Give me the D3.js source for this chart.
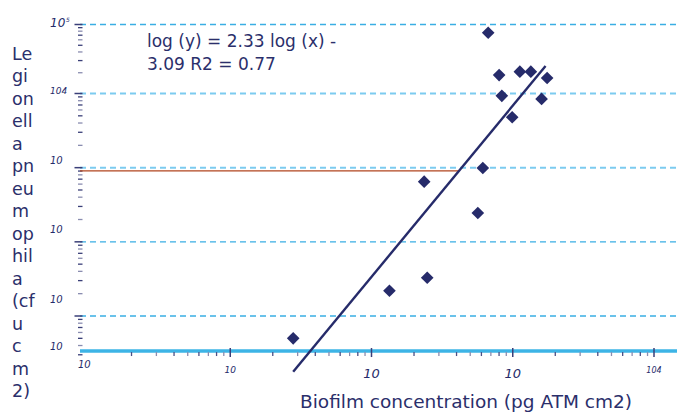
<!DOCTYPE html>
<html><head><meta charset="utf-8">
<script src="https://cdn.jsdelivr.net/npm/d3@7/dist/d3.min.js"></script>
<style>body{margin:0;background:#fff}svg{display:block}text{font-family:"DejaVu Sans",Verdana,sans-serif}</style>
</head><body><svg id="c" width="677" height="417"></svg>
<script>
// ---- data ----
const biofilm = [27.9, 134, 248, 236, 566, 614, 670, 801, 837, 991, 1123, 1343, 1751, 1600];
const legionella = [5.0, 21.9, 32.8, 647, 245, 991, 76000, 18500, 9290, 4790, 20700, 20700, 16800, 8450];
const trendX = [27.9, 1707];
const trendY = [1.77, 25100];
const threshold = 903;
const yGridValues = [1e1, 1e2, 1e3, 1e4, 1e5];
const yTickLabels = ["10", "10", "10", "104", "10"]; // for 1e1..1e5 (1e5 drawn with superscript)
const xTickValues = [1, 10, 100, 1000, 10000];
const xTickLabels = ["10", "10", "10", "10", "104"];
const equationLines = ["log (y) = 2.33 log (x) -", "3.09 R2 = 0.77"];
const yTitleLines = ["Le","gi","on","ell","a","pn","eu","m","op","hil","a","(cf","u","c","m","2)"];
const xTitle = "Biofilm concentration (pg ATM cm2)";
const yFloor = 3.37;

// ---- layout ----
const navy = "#262b6a";
const svg = d3.select("#c");
const x = d3.scaleLog().domain([1, 1e4]).range([89, 654]);
const y = d3.scaleLog().domain([1e1, 1e4, 1e5]).range([316, 93.5, 24.5]);
const xLeft = 80, xRight = 677;
const yBase = y(yFloor);

// gridlines
svg.append("g").selectAll("line").data(yGridValues).join("line")
  .attr("x1", xLeft).attr("x2", xRight)
  .attr("y1", d => y(d)).attr("y2", d => y(d))
  .attr("stroke", d => (d === 1e3 || d === 1e4) ? "#7ccbf0" : "#3aaee4")
  .attr("stroke-width", d => (d === 1e3 || d === 1e4) ? 2 : 1.3)
  .attr("stroke-dasharray", "6,4");

// y minor ticks
const yMinor = [];
for (let e = 0; e <= 4; e++) for (let m = 2; m <= 9; m++) { const v = m * Math.pow(10, e); if (v >= 3) yMinor.push(v); }
svg.append("g").selectAll("line").data(yMinor).join("line")
  .attr("x1", 78).attr("x2", 82.5).attr("y1", d => y(d)).attr("y2", d => y(d))
  .attr("stroke", (d, i) => i % 2 ? "#8a8db0" : "#3a3f78").attr("stroke-width", 1.3);
svg.append("g").selectAll("line").data(yGridValues).join("line")
  .attr("x1", 74.5).attr("x2", 82.5).attr("y1", d => y(d)).attr("y2", d => y(d))
  .attr("stroke", "#3a3f78").attr("stroke-width", 1.5);

// y labels
const yLabelDy = [-13, -9, -4, 0.5, 2];
const yLabelSize = [10, 10, 10, 9, 12];
svg.append("g").selectAll("text").data(yGridValues).join("text")
  .attr("x", 50).attr("y", (d, i) => y(d) + yLabelDy[i])
  .attr("font-size", (d, i) => yLabelSize[i]).attr("font-style", "italic").attr("fill", navy)
  .text((d, i) => yTickLabels[i]);
svg.append("text").attr("x", 66).attr("y", y(1e5) - 3).attr("font-size", 6).attr("font-style", "italic").attr("fill", navy).text("5");
svg.append("text").attr("x", 50).attr("y", yBase - 1).attr("font-size", 10).attr("font-style", "italic").attr("fill", navy).text("10");

// threshold line (ends where trend crosses it)
const tx0 = x(trendX[0]), ty0 = y(trendY[0]), tx1 = x(trendX[1]), ty1 = y(trendY[1]);
const thY = y(threshold);
const thX = tx0 + (thY - ty0) / (ty1 - ty0) * (tx1 - tx0);
svg.append("line").attr("x1", xLeft).attr("x2", thX).attr("y1", thY).attr("y2", thY)
  .attr("stroke", "#b0441e").attr("stroke-width", 1.2);

// x axis line
svg.append("line").attr("x1", xLeft).attr("x2", xRight).attr("y1", yBase).attr("y2", yBase)
  .attr("stroke", "#3db4e6").attr("stroke-width", 3.5);
// x ticks
const xMinor = [];
for (let e = 0; e <= 3; e++) for (let m = 2; m <= 9; m++) xMinor.push(m * Math.pow(10, e));
svg.append("g").selectAll("line").data(xMinor).join("line")
  .attr("x1", d => x(d)).attr("x2", d => x(d)).attr("y1", yBase + 1).attr("y2", yBase + 5)
  .attr("stroke", (d, i) => i % 2 ? "#8a8db0" : "#4a4f85").attr("stroke-width", 1.3);
svg.append("g").selectAll("line").data(xTickValues.slice(1)).join("line")
  .attr("x1", d => x(d)).attr("x2", d => x(d)).attr("y1", yBase - 3).attr("y2", yBase + 6)
  .attr("stroke", "#3a3f78").attr("stroke-width", 1.5);
// x labels
const xLabelY = [368, 373, 378, 378, 373];
const xLabelSize = [10, 9, 13, 13, 8];
svg.append("g").selectAll("text").data(xTickValues).join("text")
  .attr("x", (d, i) => i === 0 ? xLeft - 2 : x(d)).attr("y", (d, i) => xLabelY[i])
  .attr("text-anchor", (d, i) => i === 0 ? "start" : "middle")
  .attr("font-size", (d, i) => xLabelSize[i]).attr("font-style", "italic").attr("fill", navy)
  .text((d, i) => xTickLabels[i]);

// trend line
svg.append("line").attr("x1", tx0).attr("y1", ty0).attr("x2", tx1).attr("y2", ty1)
  .attr("stroke", navy).attr("stroke-width", 2.4);

// points
const pts = biofilm.map((b, i) => [b, legionella[i]]);
svg.append("g").selectAll("path").data(pts).join("path")
  .attr("d", d3.symbol(d3.symbolSquare, 80))
  .attr("transform", d => `translate(${x(d[0])},${y(d[1])}) rotate(45)`)
  .attr("fill", navy);

// equation
svg.append("g").selectAll("text").data(equationLines).join("text")
  .attr("x", 147).attr("y", (d, i) => 47 + i * 23)
  .attr("font-size", 17).attr("fill", "#2b2f6b").text(d => d);

// y title
svg.append("g").selectAll("text").data(yTitleLines).join("text")
  .attr("x", 12).attr("y", (d, i) => 60 + i * 22.47)
  .attr("font-size", 17.5).attr("fill", "#2b2f6b").text(d => d);

// x title
svg.append("text").attr("x", 300).attr("y", 408).attr("font-size", 18.5).attr("fill", "#2b2f6b").text(xTitle);
</script></body></html>
